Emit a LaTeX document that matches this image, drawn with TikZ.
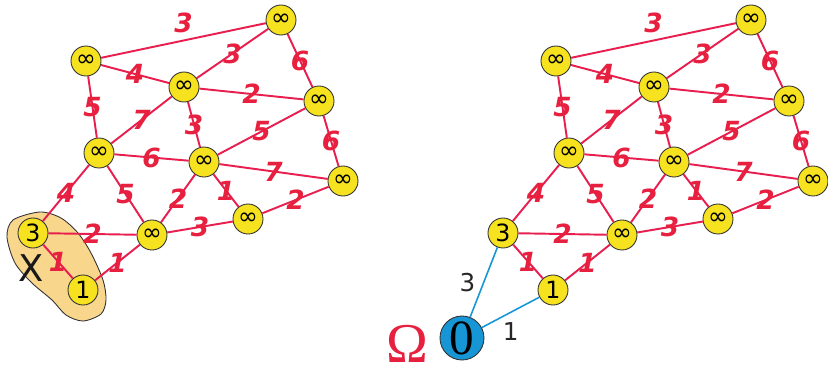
\documentclass[tikz,border=0pt]{standalone}
\usepackage{fontspec}
\newfontfamily\sansf{DejaVu Sans}
\newfontfamily\serf{Liberation Serif}
\definecolor{edgered}{RGB}{232,30,78}
\definecolor{lblred}{RGB}{230,32,62}
\definecolor{nodeyellow}{RGB}{246,226,30}
\definecolor{blobfill}{RGB}{248,214,140}
\definecolor{zeroblue}{RGB}{22,150,212}
\tikzset{
  vert/.style={circle,draw=black!80,line width=0.5pt,fill=nodeyellow,minimum size=0.6cm,inner sep=0pt,font=\sansf\fontsize{13.5}{13.5}\selectfont},
  wedge/.style={edgered,line width=1.1pt},
  wlbl/.style={midway,inner sep=0pt,text=lblred,font=\sansf\bfseries\itshape\fontsize{15}{15}\selectfont},
  bedge/.style={zeroblue,line width=0.9pt},
  blbl/.style={text=black!85,font=\sansf\fontsize{14}{14}\selectfont}
}
\begin{document}
\begin{tikzpicture}
\useasboundingbox (0,0) rectangle (16.56,-7.38);
% set X
\draw[black!80,line width=0.5pt,fill=blobfill] plot[smooth cycle] coordinates {(0.26,-4.40) (0.80,-4.24) (1.22,-4.36) (1.56,-4.66) (1.82,-5.06) (2.06,-5.60) (2.12,-6.00) (2.02,-6.28) (1.66,-6.42) (1.32,-6.30) (1.04,-6.00) (0.64,-5.66) (0.30,-5.26) (0.14,-4.74)};
\node[text=black!90,font=\sansf\fontsize{21}{21}\selectfont] (setx) at (0.62,-5.36) {X};
% both graphs
\foreach \s/\o in {L/0,R/9.4}{
\begin{scope}[xshift=\o cm]
\node[vert] (a\s) at (1.72,-1.22) {∞};
\node[vert] (b\s) at (5.62,-0.40) {∞};
\node[vert] (c\s) at (3.68,-1.74) {∞};
\node[vert] (d\s) at (6.38,-2.02) {∞};
\node[vert] (e\s) at (1.98,-3.06) {∞};
\node[vert] (f\s) at (4.08,-3.24) {∞};
\node[vert] (g\s) at (6.86,-3.62) {∞};
\node[vert] (h\s) at (4.96,-4.38) {∞};
\node[vert] (i\s) at (3.04,-4.70) {∞};
\node[vert] (t\s) at (0.66,-4.66) {3};
\node[vert] (o\s) at (1.66,-5.80) {1};
\end{scope}
\draw[wedge] (a\s) -- node[wlbl,above=4pt] {3} (b\s);
\foreach \u/\v/\w in {a/c/4,a/e/5,b/c/3,b/d/6,c/d/2,c/e/7,c/f/3,d/f/5,d/g/6,e/f/6,f/g/7,e/t/4,e/i/5,f/i/2,f/h/1,h/g/2,i/h/3,t/i/2,t/o/1,o/i/1}
  \draw[wedge] (\u\s) -- node[wlbl] {\w} (\v\s);
}
% source
\node[circle,draw=black!80,line width=0.5pt,fill=zeroblue,minimum size=0.88cm,inner sep=0pt,font=\serf\fontsize{28}{28}\selectfont] (zero) at (9.24,-6.76) {0};
\node[anchor=base,inner sep=0pt,text=lblred,font=\serf\fontsize{32}{32}\selectfont] (omega) at (8.14,-7.24) {Ω};
\draw[bedge] (zero) -- node[blbl,left=1pt] {3} (tR);
\draw[bedge] (zero) -- node[blbl,below=2pt] {1} (oR);
\end{tikzpicture}
\end{document}
